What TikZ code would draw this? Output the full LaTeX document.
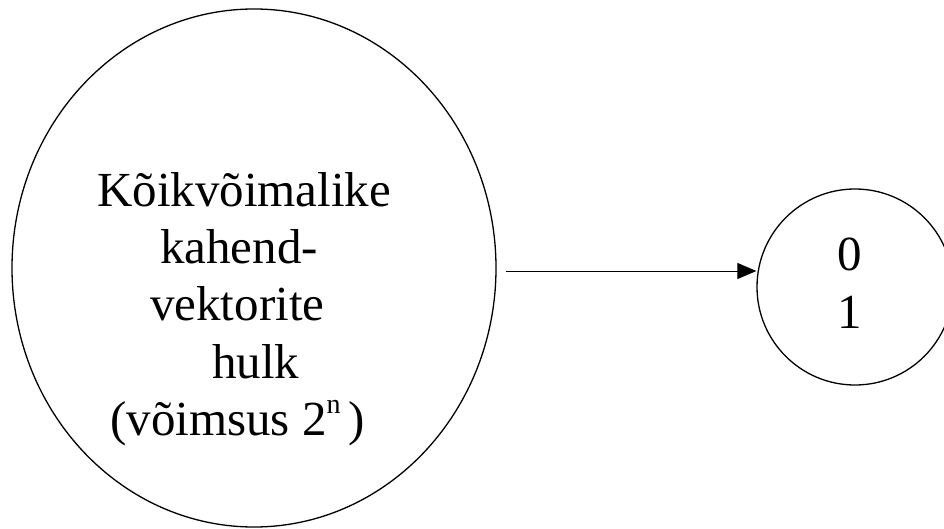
\documentclass[tikz,border=0pt]{standalone}
\usepackage{fontspec}
\setmainfont{Liberation Serif}
\usetikzlibrary{arrows.meta,shapes.geometric}
\tikzset{
  outline/.style={draw=black, line width=1.3pt, inner sep=0pt},
  txt/.style={inner sep=0pt, font=\fontsize{49}{57}\selectfont},
  conn/.style={draw=black, line width=1pt, -{Triangle[length=19pt,width=16pt]}}
}
\begin{document}
\begin{tikzpicture}[x=1pt,y=-1pt]
\path[use as bounding box, clip] (0,0) rectangle (944,529);
\node[outline, ellipse, minimum width=484pt, minimum height=518pt] (big) at (254,268) {};
\node[outline, circle, minimum size=196pt] (small) at (855,287) {};
\node[txt, anchor=base west] (t1) at (97,207) {Kõikvõimalike};
\node[txt, anchor=base west] (t2) at (160,263) {kahend-};
\node[txt, anchor=base west] (t3) at (150,320) {vektorite};
\node[txt, anchor=base west] (t4) at (212,378) {hulk};
\node[txt, anchor=base west] (t5) at (110,435) {(võimsus 2\raisebox{22pt}{\fontsize{28}{28}\selectfont n}\hspace{8pt})};
\node[txt, anchor=base] (z0) at (850,270) {0};
\node[txt, anchor=base] (z1) at (850,328) {1};
\coordinate (a0) at (506,271);
\draw[conn] (a0) -- (small.west |- a0);
\end{tikzpicture}
\end{document}
